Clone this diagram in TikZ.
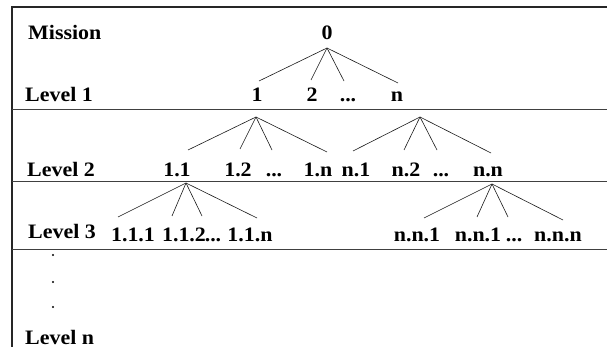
\documentclass[tikz,border=0pt]{standalone}
\usepackage{fontspec}
\setmainfont[FakeStretch=1.07]{Liberation Serif}
\begin{document}
\begin{tikzpicture}[x=1pt,y=-1pt,
  lbl/.style={font=\bfseries\fontsize{20.5}{21}\selectfont, inner sep=0pt, anchor=base},
  lvl/.style={lbl, anchor=base west},
  frame/.style={line width=1.1pt, black!85},
  sepline/.style={line width=0.9pt, black!75},
  edge/.style={line width=0.6pt, black!90},
  dotmark/.style={fill=black, draw=none}]
\useasboundingbox (0,0) rectangle (607,347);
% frame and separators
\draw[frame] (12,347) -- (12,7) -- (607,7);
\draw[sepline] (12,109) -- (607,109);
\draw[sepline] (12,181) -- (607,181);
\draw[sepline] (12,249) -- (607,249);
% level labels
\node[lvl] (lm) at (28,40) {Mission};
\node[lvl] (l1) at (25,102) {Level 1};
\node[lvl] (l2) at (27,177) {Level 2};
\node[lvl] (l3) at (28,239) {Level 3};
\node[lvl] (ln) at (25,344) {Level n};
% vertical dots
\fill[dotmark] (53,255) circle (1.2);
\fill[dotmark] (53,282) circle (1.2);
\fill[dotmark] (53,307) circle (1.2);
% root
\node[lbl] (p0) at (327,40) {0};
% level 1
\node[lbl] (c1) at (257,102) {1};
\node[lbl] (c2) at (312,102) {2};
\node[lbl] (cd1) at (348,102) {...};
\node[lbl] (cn) at (397,102) {n};
% level 2
\node[lbl] (c11) at (177,177) {1.1};
\node[lbl] (c12) at (238,177) {1.2};
\node[lbl] (cd2) at (274,177) {...};
\node[lbl] (c1n) at (318,177) {1.n};
\node[lbl] (cn1) at (356,177) {n.1};
\node[lbl] (cn2) at (406,177) {n.2};
\node[lbl] (cd3) at (441,177) {...};
\node[lbl] (cnn) at (488,177) {n.n};
% level 3
\node[lbl] (c111) at (133,241) {1.1.1};
\node[lbl] (c112) at (184,241) {1.1.2};
\node[lbl] (cd4) at (213,241) {...};
\node[lbl] (c11n) at (250,241) {1.1.n};
\node[lbl] (cnn1) at (417,241) {n.n.1};
\node[lbl] (cnn1b) at (478,241) {n.n.1};
\node[lbl] (cd5) at (514,241) {...};
\node[lbl] (cnnn) at (558,241) {n.n.n};
% apex points
\coordinate (a0) at ([shift={(0,8)}]p0.base);
\coordinate (a1) at ([shift={(-1,15)}]c1.base);
\coordinate (a2) at ([shift={(23,15)}]cn.base);
\coordinate (a3) at ([shift={(9,6)}]c11.base);
\coordinate (a4) at ([shift={(4,7)}]cnn.base);
% edges
\draw[edge] (a0) -- ([shift={(2,-21)}]c1.base);
\draw[edge] (a0) -- ([shift={(-1,-22)}]c2.base);
\draw[edge] (a0) -- ([shift={(-4,-21)}]cd1.base);
\draw[edge] (a0) -- ([shift={(1,-19)}]cn.base);
\draw[edge] (a1) -- ([shift={(11,-27)}]c11.base);
\draw[edge] (a1) -- ([shift={(2,-28)}]c12.base);
\draw[edge] (a1) -- ([shift={(-2,-27)}]cd2.base);
\draw[edge] (a1) -- ([shift={(9,-25)}]c1n.base);
\draw[edge] (a2) -- ([shift={(-3,-26)}]cn1.base);
\draw[edge] (a2) -- ([shift={(-2,-27)}]cn2.base);
\draw[edge] (a2) -- ([shift={(-4,-27)}]cd3.base);
\draw[edge] (a2) -- ([shift={(3,-24)}]cnn.base);
\draw[edge] (a3) -- ([shift={(-15,-24)}]c111.base);
\draw[edge] (a3) -- ([shift={(-12,-25)}]c112.base);
\draw[edge] (a3) -- ([shift={(-11,-25)}]cd4.base);
\draw[edge] (a3) -- ([shift={(7,-23)}]c11n.base);
\draw[edge] (a4) -- ([shift={(7,-23)}]cnn1.base);
\draw[edge] (a4) -- ([shift={(-1,-24)}]cnn1b.base);
\draw[edge] (a4) -- ([shift={(-6,-24)}]cd5.base);
\draw[edge] (a4) -- ([shift={(5,-21)}]cnnn.base);
\end{tikzpicture}
\end{document}
